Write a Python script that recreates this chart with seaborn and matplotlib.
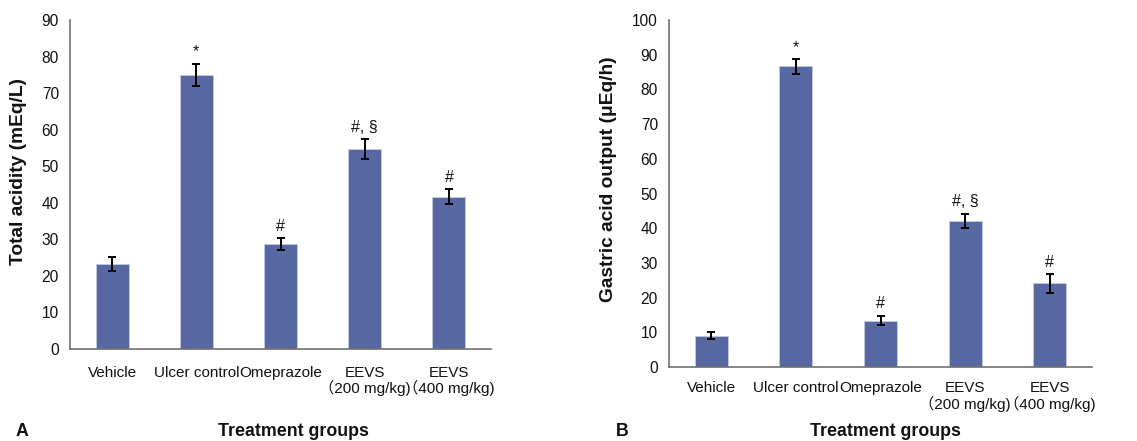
import matplotlib
matplotlib.use('Agg')
import matplotlib.pyplot as plt
import seaborn as sns
import numpy as np
import pandas as pd

groups = ["Vehicle", "Ulcer control", "Omeprazole",
          "EEVS\n\uff08200 mg/kg)", "EEVS\n\uff08400 mg/kg)"]

acidity = [23.2, 75.0, 28.8, 54.7, 41.7]
acidity_err = [1.9, 3.1, 1.7, 2.8, 2.1]
acidity_marks = ["", "*", "#", "#, \u00a7", "#"]

output = [9.0, 86.6, 13.4, 42.2, 24.1]
output_err = [1.0, 2.2, 1.4, 2.0, 2.7]
output_marks = ["", "*", "#", "#, \u00a7", "#"]

BAR = "#5868a3"
AXC = "#707070"

sns.set_theme(style="white")
plt.rcParams['font.family'] = ['Liberation Sans', 'Noto Sans CJK SC', 'DejaVu Sans']

fig = plt.figure(figsize=(11.37, 4.41), dpi=100)


def draw_panel(ax, values, errs, marks, ymax, ylabel, label_xy, tick_pad):
    df = pd.DataFrame({"group": groups, "value": values})
    sns.barplot(data=df, x="group", y="value", color=BAR, width=0.39,
                edgecolor="#c5cbe0", linewidth=0.6, saturation=1, ax=ax)
    x = np.arange(len(values))
    ax.errorbar(x, values, yerr=errs, fmt='none', ecolor='black',
                elinewidth=1.4, capsize=3, capthick=1.4)
    for xi, v, e, m in zip(x, values, errs, marks):
        if m:
            ax.text(xi, v + e + ymax * 0.012, m, ha='center', va='bottom',
                    fontsize=11.5, color='#111111')
    ax.set_xlim(-0.5, len(values) - 0.5)
    ax.set_ylim(0, ymax)
    ax.set_yticks(np.arange(0, ymax + 1, 10))
    ax.set_xticks(x)
    ax.set_xticklabels(groups, fontsize=11, color='#111111', linespacing=1.05)
    ax.set_xticks(np.arange(-0.5, len(values)), minor=True)
    ax.tick_params(axis='x', which='major', length=0, pad=tick_pad)
    ax.tick_params(axis='x', which='minor', length=5, width=1, color=AXC,
                   direction='out')
    ax.tick_params(axis='y', length=5, width=1, color=AXC, direction='out',
                   labelsize=11.2, labelcolor='#111111', pad=3)
    for s in ['top', 'right']:
        ax.spines[s].set_visible(False)
    for s in ['left', 'bottom']:
        ax.spines[s].set_color(AXC)
        ax.spines[s].set_linewidth(1.2)
    ax.set_xlabel("")
    ax.set_ylabel(ylabel, fontsize=13.8, fontweight='bold', color='#111111')
    ax.yaxis.set_label_coords(*label_xy)


ax_a = fig.add_axes([70 / 1137, 1 - 349 / 441, 421 / 1137, 329 / 441])
draw_panel(ax_a, acidity, acidity_err, acidity_marks, 90,
           "Total acidity (mEq/L)", (-0.102, 0.538), 12)

ax_b = fig.add_axes([669 / 1137, 1 - 367 / 441, 423 / 1137, 347 / 441])
draw_panel(ax_b, output, output_err, output_marks, 100,
           "Gastric acid output (\u03bcEq/h)", (-0.123, 0.542), 10)

fig.text(293 / 1137, 1 - 431 / 441, "Treatment groups", ha='center', va='center',
         fontsize=12.8, fontweight='bold', color='#111111')
fig.text(885 / 1137, 1 - 431 / 441, "Treatment groups", ha='center', va='center',
         fontsize=12.8, fontweight='bold', color='#111111')
fig.text(22 / 1137, 1 - 431 / 441, "A", ha='center', va='center',
         fontsize=12.8, fontweight='bold', color='#111111')
fig.text(622 / 1137, 1 - 431 / 441, "B", ha='center', va='center',
         fontsize=12.8, fontweight='bold', color='#111111')

fig.savefig("out.png", dpi=100, facecolor='white')
